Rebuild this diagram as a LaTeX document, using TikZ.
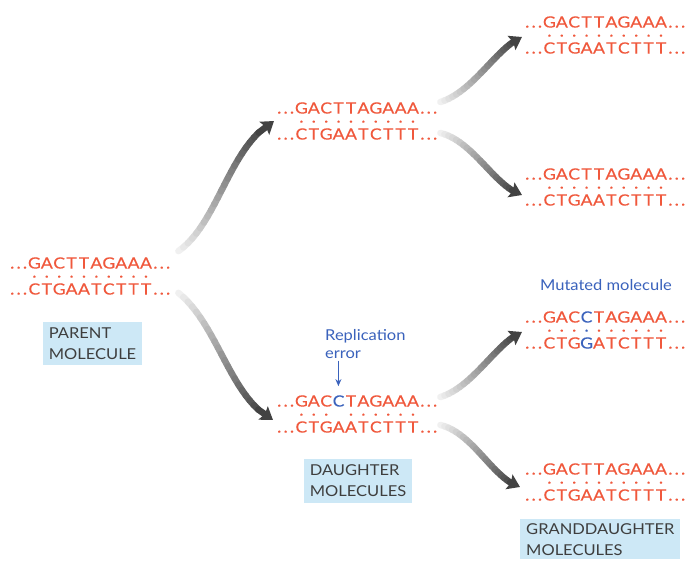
\documentclass[tikz,border=0pt]{standalone}
\usepackage{fontspec}
\setmainfont{Lato}[FakeStretch=1.1]
\newfontfamily\dnafont{Lato}[FakeStretch=1.14,FakeBold=0.2]
\usepackage{tikz}
\usetikzlibrary{calc,positioning,arrows.meta}

\definecolor{dnared}{RGB}{240,88,60}
\definecolor{mutblue}{RGB}{58,98,188}
\definecolor{tagfill}{RGB}{205,232,246}
\definecolor{tagtext}{RGB}{62,62,62}

\newlength\basew
\setlength\basew{12.4pt}
\newcommand\seqloop[1]{\ifx#1\relax\else\makebox[\basew]{#1}\expandafter\seqloop\fi}
\newcommand\ellip{.\hspace{2.2pt}.\hspace{2.2pt}.}
\newcommand\strand[1]{\makebox[18pt][l]{\ellip}\seqloop#1\relax\makebox[18pt][r]{\ellip}}
\newcommand\dotrow[1]{\makebox[18pt]{}\seqloop#1\relax\makebox[18pt]{}}
\newcommand\pd{.}
\newcommand\bd{\textcolor{mutblue}{.}}
\newcommand\nd{}
\newcommand\Cb{\textcolor{mutblue}{C}}
\newcommand\Gb{\textcolor{mutblue}{G}}
\newcommand\dna[3]{\strand{#1}\\[-5pt]\dotrow{#2}\\[3pt]\strand{#3}}

\tikzset{
  mol/.style={anchor=west, align=left, inner sep=0pt, text=dnared, font=\dnafont\fontsize{15.5}{14}\selectfont},
  tag/.style={fill=tagfill, text=tagtext, align=left, inner xsep=6pt, inner ysep=6pt, font=\fontsize{15}{21}\selectfont},
  note/.style={text=mutblue, align=left, inner sep=2pt, font=\fontsize{15}{18}\selectfont},
  fadeline/.style={line width=6.5pt, line cap=round},
  errarrow/.style={mutblue, line width=1.2pt, -{Stealth[length=7pt,width=6pt]}}
}

\newcommand\fadearrow[4]{%
  \path (#2) .. controls #3 .. (#4)
    foreach \k in {0,...,24} {coordinate[pos=\k/24] (#1\k)};
  \foreach \k [evaluate=\k as \tone using int(6+3.2*\k), evaluate=\k as \nxt using int(\k+1)] in {0,...,20}
    \draw[fadeline, black!\tone] (#1\k) -- (#1\nxt);
  \draw[fadeline, black!74, -{Stealth[length=12pt,width=16pt,inset=2pt]}] (#121) -- (#124);
}

\begin{document}
\begin{tikzpicture}[x=1pt,y=-1pt]
\path[use as bounding box, fill=white] (0,0) rectangle (685,561);

\node[mol] (parent) at (10,276) {\dna{GACTTAGAAA}{\pd\pd\pd\pd\pd\pd\pd\pd\pd\pd}{CTGAATCTTT}};
\node[mol] (d1) at (277,121) {\dna{GACTTAGAAA}{\pd\pd\pd\pd\pd\pd\pd\pd\pd\pd}{CTGAATCTTT}};
\node[mol] (d2) at (277,414) {\dna{GAC\Cb TAGAAA}{\pd\pd\pd\nd\pd\pd\pd\pd\pd\pd}{CTGAATCTTT}};
\node[mol] (g1) at (525,35) {\dna{GACTTAGAAA}{\pd\pd\pd\pd\pd\pd\pd\pd\pd\pd}{CTGAATCTTT}};
\node[mol] (g2) at (525,187) {\dna{GACTTAGAAA}{\pd\pd\pd\pd\pd\pd\pd\pd\pd\pd}{CTGAATCTTT}};
\node[mol] (g3) at (525,330) {\dna{GAC\Cb TAGAAA}{\pd\pd\pd\bd\pd\pd\pd\pd\pd\pd}{CTG\Gb ATCTTT}};
\node[mol] (g4) at (525,482) {\dna{GACTTAGAAA}{\pd\pd\pd\pd\pd\pd\pd\pd\pd\pd}{CTGAATCTTT}};

\node[tag] (ptag) at (92.5,343.5) {PARENT\\MOLECULE};
\node[tag] (dtag) at (358,481) {DAUGHTER\\MOLECULES};
\node[tag, anchor=north west, inner ysep=4pt] (gtag) at (520,519) {GRANDDAUGHTER\\MOLECULES};

\node[note, anchor=north west] (rep) at (323,327) {Replication\\error};
\node[note] (mut) at (606,285) {Mutated molecule};
\coordinate (errtip) at ([shift={(61.4,-9)}]d2.north west);
\draw[errarrow] (errtip |- rep.south) -- (errtip);

\fadearrow{a}{[shift={(8,-6)}]parent.north east}{+(40,-28) and +(-45,25)}{[shift={(-3,0)}]d1.west}
\fadearrow{b}{[shift={(8,-2)}]parent.south east}{+(40,32) and +(-43,-22)}{[shift={(-4,6)}]d2.west}
\fadearrow{c}{[shift={(3,-19)}]d1.east}{+(33,-10) and +(-25,10)}{[shift={(-3,2)}]g1.west}
\fadearrow{e}{[shift={(3,12)}]d1.east}{+(33,8) and +(-27,-8)}{[shift={(-3,8)}]g2.west}
\fadearrow{f}{[shift={(3,-17)}]d2.east}{+(33,-10) and +(-25,10)}{[shift={(-3,2)}]g3.west}
\fadearrow{h}{[shift={(3,11)}]d2.east}{+(33,8) and +(-27,-8)}{[shift={(-5,5)}]g4.west}
\end{tikzpicture}
\end{document}
